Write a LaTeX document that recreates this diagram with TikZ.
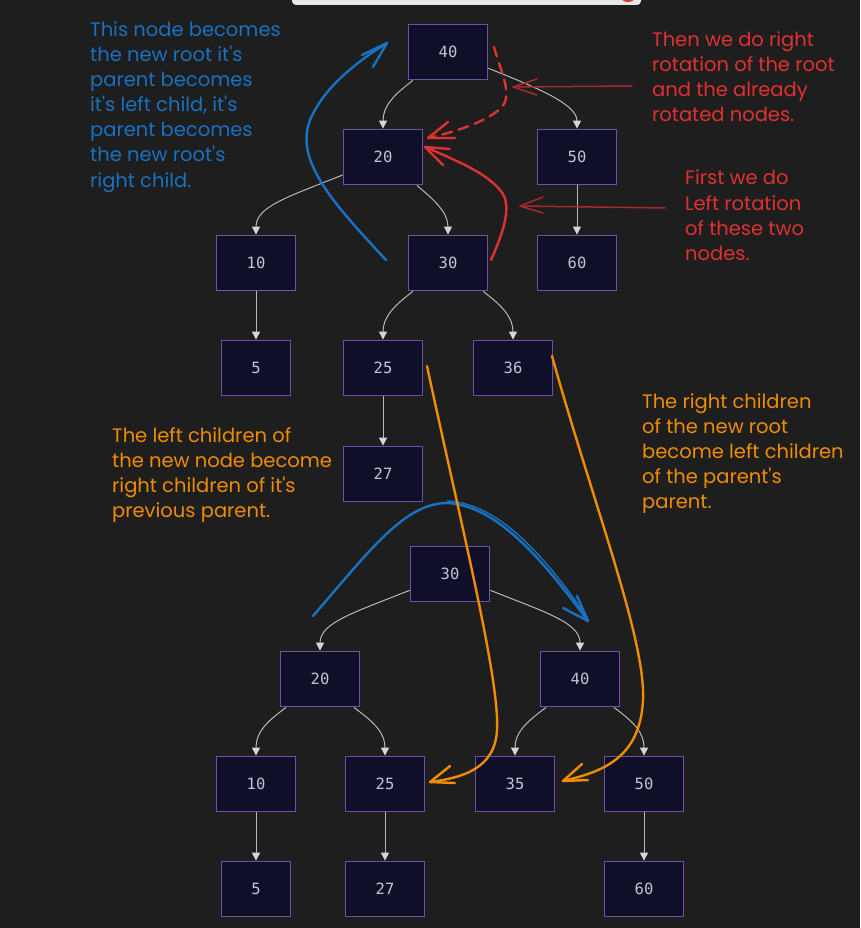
\documentclass[tikz,border=0pt]{standalone}
\usepackage{fontspec}
\setmainfont{Poppins}
\newfontfamily\hand{Poppins}
\newfontfamily\monofont{DejaVu Sans Mono}
\usetikzlibrary{arrows.meta}
\definecolor{bgcol}{HTML}{1E1E1E}
\definecolor{nodefill}{HTML}{0F0F2A}
\definecolor{nodeborder}{HTML}{6E50A8}
\definecolor{nodetext}{HTML}{C4C4CE}
\definecolor{edgecol}{HTML}{B8B8B8}
\definecolor{arrowcol}{HTML}{D6D6D6}
\definecolor{annblue}{HTML}{1971C2}
\definecolor{annred}{HTML}{E03131}
\definecolor{anndark}{HTML}{A52A2A}
\definecolor{annorange}{HTML}{F08C00}
\definecolor{barcol}{HTML}{E8E8E8}
\begin{document}
\begin{tikzpicture}[x=1pt,y=-1pt,
  tnode/.style={draw=nodeborder, fill=nodefill, line width=1.8pt, minimum width=79pt, minimum height=55pt, inner sep=0pt, text=nodetext, font=\monofont\fontsize{15.5}{15.5}\selectfont},
  narrow/.style={minimum width=69pt},
  edge/.style={draw=edgecol, line width=1pt, -{Triangle[width=8pt,length=8pt,color=arrowcol]}},
  ann/.style={line width=2.4pt, line cap=round, line join=round},
  thin ann/.style={line width=1.5pt, line cap=round, line join=round},
  txt/.style={anchor=base west, inner sep=0pt, font=\hand\fontsize{19.5}{25}\selectfont}
]
\fill[bgcol] (0,0) rectangle (860,928);
\path[use as bounding box] (0,0) rectangle (860,928);
% top bar
\fill[barcol, rounded corners=4pt] (292,-8) rectangle (641,5);
\begin{scope}
\clip[rounded corners=4pt] (292,-8) rectangle (641,5);
\fill[annred] (628,-3) ellipse (7pt and 5pt);
\end{scope}

% top tree
\node[tnode] (a40) at (448,52) {40};
\node[tnode] (a20) at (383,157) {20};
\node[tnode] (a50) at (577,157) {50};
\node[tnode] (a10) at (256,263) {10};
\node[tnode] (a30) at (448,263) {30};
\node[tnode] (a60) at (577,263) {60};
\node[tnode,narrow] (a5) at (256,368) {5};
\node[tnode] (a25) at (383,368) {25};
\node[tnode] (a36) at (513,368) {36};
\node[tnode] (a27) at (383,474) {27};

\draw[edge] (a40.219) .. controls +(-20,15) and +(0,-22) .. (a20.north);
\draw[edge] (a40.338) .. controls +(45,18) and +(0,-25) .. (a50.north);
\draw[edge] (a20.204) .. controls +(-55,22) and +(0,-28) .. (a10.north);
\draw[edge] (a20.320) .. controls +(18,15) and +(0,-22) .. (a30.north);
\draw[edge] (a50.south) -- (a60.north);
\draw[edge] (a10.south) -- (a5.north);
\draw[edge] (a30.219) .. controls +(-20,15) and +(0,-22) .. (a25.north);
\draw[edge] (a30.321) .. controls +(20,15) and +(0,-22) .. (a36.north);
\draw[edge] (a25.south) -- (a27.north);

% bottom tree
\node[tnode] (b30) at (450,574) {30};
\node[tnode] (b20) at (320,679) {20};
\node[tnode] (b40) at (580,679) {40};
\node[tnode] (b10) at (256,784) {10};
\node[tnode] (b25) at (385,784) {25};
\node[tnode] (b35) at (515,784) {35};
\node[tnode] (b50) at (644,784) {50};
\node[tnode,narrow] (b5) at (256,889) {5};
\node[tnode] (b27) at (385,889) {27};
\node[tnode] (b60) at (644,889) {60};

\draw[edge] (b30.202) .. controls +(-55,22) and +(0,-28) .. (b20.north);
\draw[edge] (b30.338) .. controls +(55,22) and +(0,-28) .. (b40.north);
\draw[edge] (b20.220) .. controls +(-22,16) and +(0,-22) .. (b10.north);
\draw[edge] (b20.320) .. controls +(22,16) and +(0,-22) .. (b25.north);
\draw[edge] (b40.220) .. controls +(-22,16) and +(0,-22) .. (b35.north);
\draw[edge] (b40.320) .. controls +(22,16) and +(0,-22) .. (b50.north);
\draw[edge] (b10.south) -- (b5.north);
\draw[edge] (b25.south) -- (b27.north);
\draw[edge] (b50.south) -- (b60.north);

% ---- annotations: coordinates
\coordinate (bluetopS) at (386,260);
\coordinate (bluetopT) at (387,43);
\coordinate (redS) at (491,260);
\coordinate (redT) at (425,147);
\coordinate (reddS) at (494,47);
\coordinate (reddT) at (428,138);
\coordinate (dr1S) at (632,86);
\coordinate (dr1T) at (513,87);
\coordinate (dr2S) at (665,208);
\coordinate (dr2T) at (520,206);
\coordinate (bluebS) at (313,616);
\coordinate (bluebT) at (588,621);
\coordinate (or1S) at (427,366);
\coordinate (or1T) at (430,782);
\coordinate (or2S) at (552,356);
\coordinate (or2T) at (563,781);

% blue top
\draw[ann, annblue] (bluetopS) .. controls (330,200) and (295,160) .. (310,120) .. controls (325,85) and (360,60) .. (bluetopT);
\draw[ann, annblue] (362,55) -- (bluetopT) -- (373,67);
% red solid
\draw[ann, annred] (redS) .. controls (502,235) and (514,205) .. (500,190) .. controls (485,172) and (455,160) .. (redT);
\draw[ann, annred] (450,149) -- (redT) -- (443,165);
% red dashed
\draw[ann, annred, dash pattern=on 10pt off 7pt] (reddS) .. controls (500,70) and (514,95) .. (501,108) .. controls (486,122) and (455,132) .. (reddT);
\draw[ann, annred] (448,122) -- (reddT) -- (455,138);
% dark red thin arrows
\draw[thin ann, anndark] (dr1S) -- (dr1T);
\draw[thin ann, anndark] (537,79) -- (dr1T) -- (537,95);
\draw[thin ann, anndark] (dr2S) -- (dr2T);
\draw[thin ann, anndark] (543,197) -- (dr2T) -- (543,213);
% blue bottom arc
\draw[ann, annblue] (bluebS) .. controls (370,550) and (405,503) .. (447,503) .. controls (500,505) and (550,570) .. (bluebT);
\draw[line width=1.4pt, annblue, line cap=round] (447,501) .. controls (503,503) and (552,567) .. (587,617);
\draw[ann, annblue] (577,596) -- (bluebT) -- (563,608);
% orange curves
\draw[ann, annorange] (or1S) .. controls (460,520) and (500,680) .. (497,730) .. controls (495,770) and (460,778) .. (or1T);
\draw[ann, annorange] (450,766) -- (or1T) -- (455,783);
\draw[ann, annorange] (or2S) .. controls (592,500) and (646,640) .. (643,700) .. controls (640,760) and (600,772) .. (or2T);
\draw[ann, annorange] (582,764) -- (or2T) -- (588,780);

% ---- texts
\node[txt, text=annblue] (bt1) at (90,37) {This node becomes};
\node[txt, text=annblue] (bt2) at (90,62) {the new root it's};
\node[txt, text=annblue] (bt3) at (90,87) {parent becomes};
\node[txt, text=annblue] (bt4) at (90,112) {it's left child, it's};
\node[txt, text=annblue] (bt5) at (90,137) {parent becomes};
\node[txt, text=annblue] (bt6) at (90,162) {the new root's};
\node[txt, text=annblue] (bt7) at (90,187) {right child.};

\node[txt, text=annred] (rt1) at (652,47) {Then we do right};
\node[txt, text=annred] (rt2) at (652,72) {rotation of the root};
\node[txt, text=annred] (rt3) at (652,97) {and the already};
\node[txt, text=annred] (rt4) at (652,122) {rotated nodes.};

\node[txt, text=annred] (ft1) at (685,185) {First we do};
\node[txt, text=annred] (ft2) at (685,210) {Left rotation};
\node[txt, text=annred] (ft3) at (685,235) {of these two};
\node[txt, text=annred] (ft4) at (685,260) {nodes.};

\node[txt, text=annorange] (ol1) at (112,442) {The left children of};
\node[txt, text=annorange] (ol2) at (112,467) {the new node become};
\node[txt, text=annorange] (ol3) at (112,492) {right children of it's};
\node[txt, text=annorange] (ol4) at (112,517) {previous parent.};

\node[txt, text=annorange] (or1) at (642,408) {The right children};
\node[txt, text=annorange] (or2) at (642,433) {of the new root};
\node[txt, text=annorange] (or3) at (642,458) {become left children};
\node[txt, text=annorange] (or4) at (642,483) {of the parent's};
\node[txt, text=annorange] (or5) at (642,508) {parent.};
\end{tikzpicture}
\end{document}
